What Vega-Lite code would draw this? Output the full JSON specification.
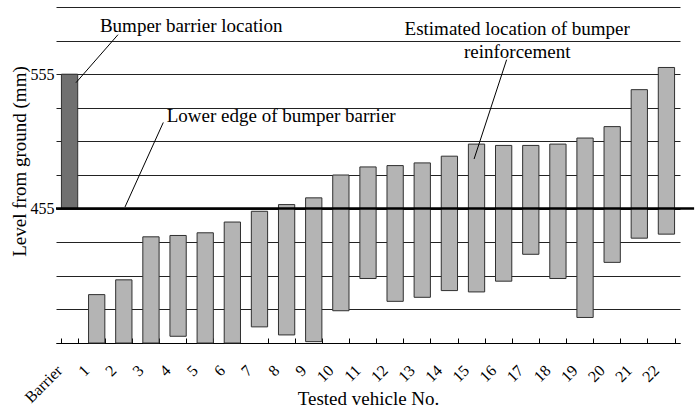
{
  "$schema": "https://vega.github.io/schema/vega-lite/v6.json",
  "width": 624,
  "height": 336,
  "autosize": {"type": "none"},
  "padding": {"left": 56, "top": 7, "right": 16, "bottom": 66},
  "background": "white",
  "config": {
    "view": {"stroke": null},
    "font": "Times New Roman, Liberation Serif, serif",
    "axis": {"labelFont": "Times New Roman, Liberation Serif, serif", "titleFont": "Times New Roman, Liberation Serif, serif", "labelColor": "black", "titleColor": "black", "titleFontWeight": "normal"}
  },
  "datasets": {
    "bars": [
      {"vehicle": "Barrier", "low": 455, "high": 555, "kind": "barrier"},
      {"vehicle": "1", "low": 355, "high": 391, "kind": "vehicle"},
      {"vehicle": "2", "low": 355, "high": 402, "kind": "vehicle"},
      {"vehicle": "3", "low": 355, "high": 434, "kind": "vehicle"},
      {"vehicle": "4", "low": 360, "high": 435, "kind": "vehicle"},
      {"vehicle": "5", "low": 355, "high": 437, "kind": "vehicle"},
      {"vehicle": "6", "low": 355, "high": 445, "kind": "vehicle"},
      {"vehicle": "7", "low": 367, "high": 453, "kind": "vehicle"},
      {"vehicle": "8", "low": 361, "high": 458, "kind": "vehicle"},
      {"vehicle": "9", "low": 356, "high": 463, "kind": "vehicle"},
      {"vehicle": "10", "low": 379, "high": 480, "kind": "vehicle"},
      {"vehicle": "11", "low": 403, "high": 486, "kind": "vehicle"},
      {"vehicle": "12", "low": 386, "high": 487, "kind": "vehicle"},
      {"vehicle": "13", "low": 389, "high": 489, "kind": "vehicle"},
      {"vehicle": "14", "low": 394, "high": 494, "kind": "vehicle"},
      {"vehicle": "15", "low": 393, "high": 503, "kind": "vehicle"},
      {"vehicle": "16", "low": 401, "high": 502, "kind": "vehicle"},
      {"vehicle": "17", "low": 421, "high": 502, "kind": "vehicle"},
      {"vehicle": "18", "low": 403, "high": 503, "kind": "vehicle"},
      {"vehicle": "19", "low": 374, "high": 507.5, "kind": "vehicle"},
      {"vehicle": "20", "low": 415, "high": 516, "kind": "vehicle"},
      {"vehicle": "21", "low": 433, "high": 543.5, "kind": "vehicle"},
      {"vehicle": "22", "low": 436, "high": 560, "kind": "vehicle"}
    ],
    "notesLeft": [
      {"ax": 1.62, "ay": 586.4, "text": "Bumper barrier location"},
      {"ax": 4.08, "ay": 519.1, "text": "Lower edge of bumper barrier"}
    ],
    "notesCenter": [
      {"ax": 17.0, "ay": 583.9, "text": "Estimated location of bumper"},
      {"ax": 17.0, "ay": 567, "text": "reinforcement"}
    ],
    "leaders": [
      {"x1": 2.285, "y1": 584.4, "x2": 0.737, "y2": 548.7},
      {"x1": 3.955, "y1": 519.1, "x2": 2.543, "y2": 456.2},
      {"x1": 16.61, "y1": 565.8, "x2": 15.41, "y2": 491.9}
    ],
    "edge": [{"xa": 0, "xb": 23.52, "level": 455}]
  },
  "resolve": {"scale": {"x": "independent"}, "axis": {"x": "independent"}},
  "layer": [
    {
      "data": {"name": "bars"},
      "mark": {"type": "bar", "stroke": "#303030", "strokeWidth": 1},
      "encoding": {
        "x": {
          "field": "vehicle", "type": "nominal", "sort": null,
          "scale": {"paddingInner": 0.4, "paddingOuter": 0.2},
          "axis": {
            "title": "Tested vehicle No.", "titleFontSize": 19,
            "titleY": 61, "titleBaseline": "alphabetic",
            "labelAngle": -45, "labelFontSize": 16, "labelPadding": 24, "labelOffset": -16,
            "tickBand": "extent", "tickSize": -5, "tickColor": "black",
            "domainColor": "black", "grid": false
          }
        },
        "y": {
          "field": "low", "type": "quantitative",
          "scale": {"domain": [355, 605], "nice": false, "zero": false},
          "axis": {
            "title": "Level from ground (mm)", "titleFontSize": 19,
            "titleX": -27, "titleY": 154, "titleBaseline": "bottom", "titleAlign": "center", "titleAngle": -90,
            "values": [355, 380, 405, 430, 455, 480, 505, 530, 555, 580, 605],
            "tickCount": 30,
            "labelExpr": "datum.value == 455 || datum.value == 555 ? datum.label : ''",
            "labelFontSize": 16, "labelPadding": 2,
            "domain": false, "ticks": false,
            "grid": true, "gridColor": "#222", "gridWidth": 1, "gridOpacity": 1
          }
        },
        "y2": {"field": "high"},
        "fill": {
          "field": "kind", "type": "nominal",
          "scale": {"domain": ["barrier", "vehicle"], "range": ["#707070", "#b4b4b4"]},
          "legend": null
        }
      }
    },
    {
      "data": {"name": "edge"},
      "mark": {"type": "rule", "color": "black", "strokeWidth": 2.5},
      "encoding": {
        "x": {"field": "xa", "type": "quantitative", "scale": {"domain": [0, 23], "nice": false, "zero": false}, "axis": null},
        "x2": {"field": "xb"},
        "y": {"field": "level", "type": "quantitative"}
      }
    },
    {
      "data": {"name": "leaders"},
      "mark": {"type": "rule", "color": "black", "strokeWidth": 1},
      "encoding": {
        "x": {"field": "x1", "type": "quantitative", "scale": {"domain": [0, 23], "nice": false, "zero": false}, "axis": null},
        "x2": {"field": "x2"},
        "y": {"field": "y1", "type": "quantitative"},
        "y2": {"field": "y2"}
      }
    },
    {
      "data": {"name": "notesLeft"},
      "mark": {"type": "text", "fontSize": 19, "font": "Times New Roman, Liberation Serif, serif", "color": "black", "baseline": "alphabetic", "align": "left"},
      "encoding": {
        "x": {"field": "ax", "type": "quantitative", "scale": {"domain": [0, 23], "nice": false, "zero": false}, "axis": null},
        "y": {"field": "ay", "type": "quantitative"},
        "text": {"field": "text"}
      }
    },
    {
      "data": {"name": "notesCenter"},
      "mark": {"type": "text", "fontSize": 19, "font": "Times New Roman, Liberation Serif, serif", "color": "black", "baseline": "alphabetic", "align": "center"},
      "encoding": {
        "x": {"field": "ax", "type": "quantitative", "scale": {"domain": [0, 23], "nice": false, "zero": false}, "axis": null},
        "y": {"field": "ay", "type": "quantitative"},
        "text": {"field": "text"}
      }
    }
  ]
}
